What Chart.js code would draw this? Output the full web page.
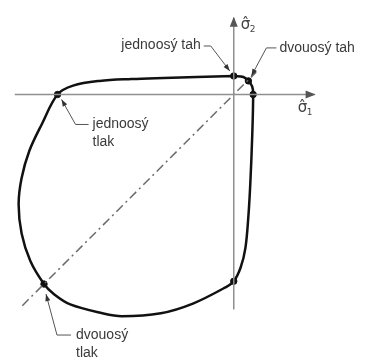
<!DOCTYPE html>
<html>
<head>
<meta charset="utf-8">
<script src="https://cdn.jsdelivr.net/npm/chart.js@4"></script>
<style>
  html, body { margin: 0; padding: 0; background: #fff; }
  canvas { display: block; }
</style>
</head>
<body>
<canvas id="envelope" width="377" height="363"></canvas>
<script>
// Biaxial failure envelope, stresses normalised by uniaxial compressive strength
const sigma1 = [0, 0.055, 0.083, 0.105, 0.110, 0.105, 0.094, 0.083, 0.066, 0.039, 0,
  -0.044, -0.232, -0.414, -0.635, -0.746, -0.928, -1.020, -1.077, -1.155, -1.204,
  -1.221, -1.204, -1.160, -1.088, -1, -0.912, -0.762,
  -0.580, -0.398, -0.210, 0];
const sigma2 = [0.105, 0.099, 0.077, 0.044, 0, -0.227, -0.503, -0.691, -0.873, -0.983, -1.061,
  -1.094, -1.188, -1.243, -1.260, -1.243, -1.193, -1.135, -1.077, -0.945, -0.790,
  -0.624, -0.475, -0.320, -0.166, 0, 0.050, 0.077,
  0.088, 0.094, 0.099, 0.105];

// marked states: uniaxial tension, biaxial tension, tension on sigma1,
// uniaxial compression, biaxial compression, compression on sigma2
const markS1 = [0, 0.083, 0.110, -1, -1.077, 0];
const markS2 = [0.105, 0.077, 0, 0, -1.077, -1.061];

// equal-stress diagonal and the two axes
const diagS = [-1.200, 0.127];
const axisS1 = [-1.243, 0.459];
const axisS2 = [-1.221, 0.436];

const labelTexts = [['jednoosý tah'], ['dvouosý tah'], ['jednoosý', 'tlak'], ['dvouosý', 'tlak']];
const labelMarks = [0, 1, 3, 4];

const xy = (xs, ys) => xs.map((x, i) => ({ x, y: ys[i] }));

function arrowHead(ctx, x0, y0, x1, y1, len, half) {
  const a = Math.atan2(y1 - y0, x1 - x0);
  ctx.beginPath();
  ctx.moveTo(x1, y1);
  ctx.lineTo(x1 - len * Math.cos(a) + half * Math.sin(a), y1 - len * Math.sin(a) - half * Math.cos(a));
  ctx.lineTo(x1 - len * Math.cos(a) - half * Math.sin(a), y1 - len * Math.sin(a) + half * Math.cos(a));
  ctx.closePath();
  ctx.fill();
}

// leader geometry relative to the marked point (px)
const leaders = [
  { path: [[-4, -5], [-23, -30], [-30, -30]], text: [-33, -31], align: 'right' },
  { path: [[3, -5], [18, -33], [28, -33]], text: [31, -33], align: 'left' },
  { path: [[4, 5], [18, 30], [31, 30]], text: [35, 30], align: 'left' },
  { path: [[2, 10], [13, 51], [27, 51]], text: [32, 51], align: 'left' }
];

const annotations = {
  id: 'annotations',
  afterDatasetsDraw(chart) {
    const { ctx, scales: { x, y } } = chart;
    ctx.save();

    // axis arrows
    ctx.fillStyle = '#555';
    const ox = x.getPixelForValue(0), oy = y.getPixelForValue(0);
    arrowHead(ctx, ox, oy, x.getPixelForValue(axisS1[1]) + 1, oy, 10, 4);
    arrowHead(ctx, ox, oy, ox, y.getPixelForValue(axisS2[1]) - 1, 10, 4);

    // axis titles
    ctx.fillStyle = '#444';
    ctx.textBaseline = 'alphabetic';
    const ax1 = x.getPixelForValue(axisS1[1]), ay2 = y.getPixelForValue(axisS2[1]);
    ctx.font = '15px "DejaVu Sans"';
    ctx.fillText('σ̂', ax1 - 17, oy + 18);
    ctx.fillText('σ̂', ox + 7, ay2 + 11);
    ctx.font = '9px "DejaVu Sans"';
    ctx.fillText('1', ax1 - 8, oy + 21);
    ctx.fillText('2', ox + 16, ay2 + 14);

    // leaders and labels
    ctx.font = '14px "Liberation Sans", Arial, sans-serif';
    ctx.textBaseline = 'middle';
    leaders.forEach((ld, i) => {
      const m = labelMarks[i];
      const px = x.getPixelForValue(markS1[m]);
      const py = y.getPixelForValue(markS2[m]);
      const pts = ld.path.map(([dx, dy]) => [px + dx, py + dy]);
      ctx.strokeStyle = '#555';
      ctx.lineWidth = 1;
      ctx.beginPath();
      pts.forEach(([a, b], k) => (k ? ctx.lineTo(a, b) : ctx.moveTo(a, b)));
      ctx.stroke();
      ctx.fillStyle = '#333';
      arrowHead(ctx, pts[1][0], pts[1][1], pts[0][0], pts[0][1], 7, 2.5);
      ctx.textAlign = ld.align;
      ctx.fillStyle = '#3a3a3a';
      labelTexts[i].forEach((t, k) => ctx.fillText(t, px + ld.text[0], py + ld.text[1] + k * 18));
    });
    ctx.restore();
  }
};

new Chart(document.getElementById('envelope').getContext('2d'), {
  type: 'scatter',
  data: {
    datasets: [
      {
        data: xy(axisS1, [0, 0]),
        showLine: true, borderColor: '#8f8f8f', borderWidth: 1.5, pointRadius: 0
      },
      {
        data: xy([0, 0], axisS2),
        showLine: true, borderColor: '#8f8f8f', borderWidth: 1.5, pointRadius: 0
      },
      {
        data: xy(diagS, diagS),
        showLine: true, borderColor: '#6a6a6a', borderWidth: 1.5,
        borderDash: [9, 4, 2, 4], pointRadius: 0
      },
      {
        data: xy(sigma1, sigma2),
        showLine: true, borderColor: '#111', borderWidth: 2.5,
        tension: 0.35, pointRadius: 0
      },
      {
        data: xy(markS1, markS2),
        backgroundColor: '#111', borderColor: '#111', pointRadius: 3.2
      }
    ]
  },
  options: {
    responsive: false,
    animation: false,
    devicePixelRatio: 1,
    layout: { padding: 0 },
    plugins: { legend: { display: false }, tooltip: { enabled: false } },
    scales: {
      x: { type: 'linear', display: false, min: -1.2983, max: 0.7845 },
      y: { type: 'linear', display: false, min: -1.4972, max: 0.5083 }
    }
  },
  plugins: [annotations]
});
</script>
</body>
</html>
